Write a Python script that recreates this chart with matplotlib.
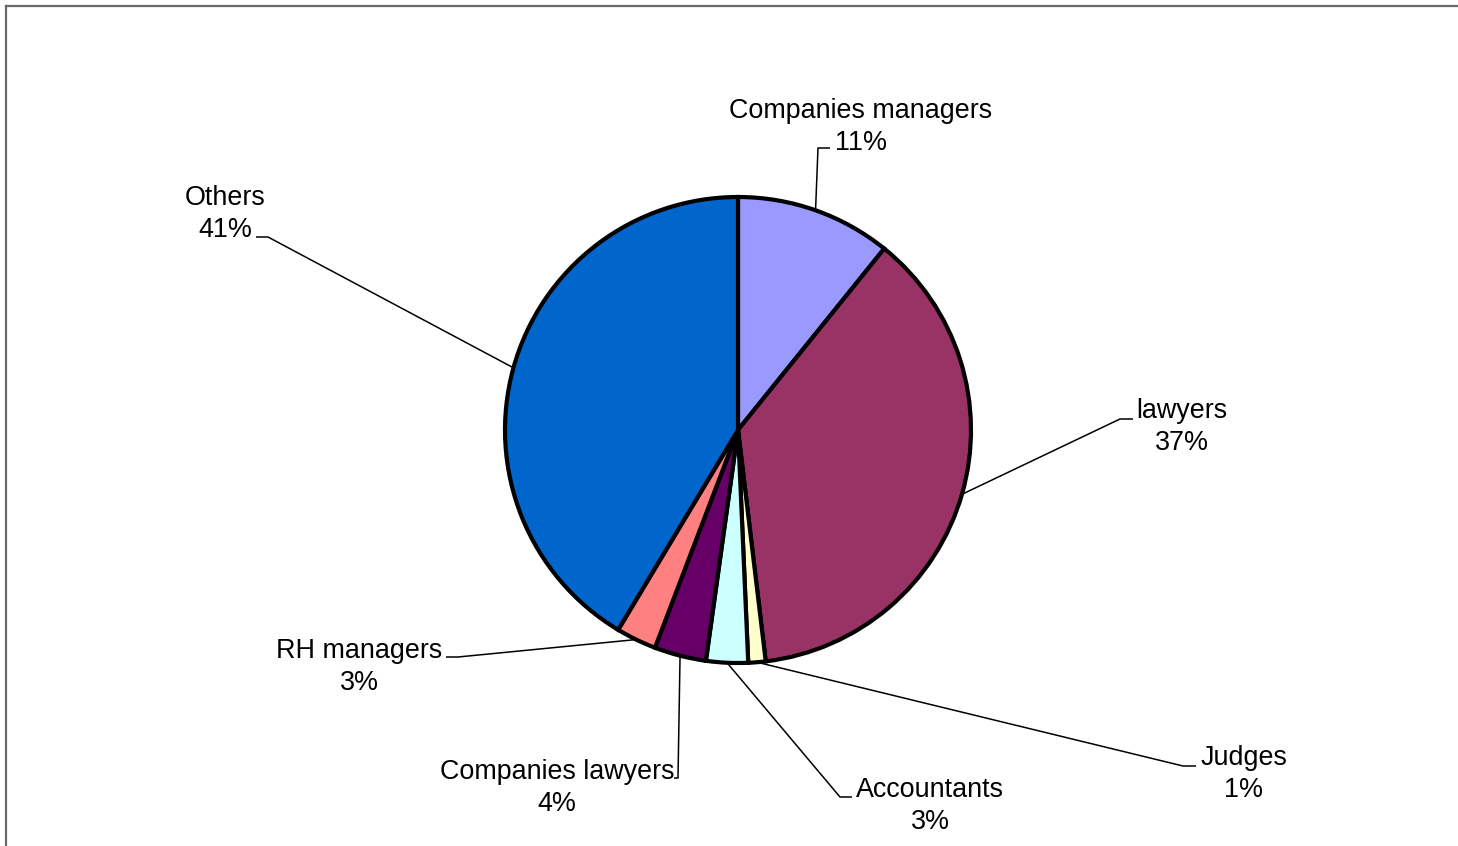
import numpy as np
import matplotlib
matplotlib.use("Agg")
import matplotlib.pyplot as plt
from matplotlib.lines import Line2D

plt.rcParams['font.family'] = ['Liberation Sans', 'DejaVu Sans']

# data (clockwise from 12 o'clock)
categories = ["Companies managers", "lawyers", "Judges", "Accountants",
              "Companies lawyers", "RH managers", "Others"]
shares = [10.8, 37.3, 1.2, 2.9, 3.6, 2.8, 41.4]
colors = ["#9999FF", "#993366", "#FFFFCC", "#CCFFFF", "#660066", "#FF8080", "#0066CC"]

W, H = 1458, 846
fig = plt.figure(figsize=(W / 100, H / 100), dpi=100)
ax = fig.add_axes([0, 0, 1, 1])

cx, cy, r = 738, H - 430, 233
wedges, _ = ax.pie(shares, colors=colors, startangle=90, counterclock=False,
                   center=(cx, cy), radius=r, frame=True,
                   wedgeprops=dict(edgecolor='black', linewidth=3.0))
ax.set_xlim(0, W)
ax.set_ylim(0, H)
ax.set_aspect('equal')
ax.axis('off')

# label layout in pixel coords: text centre, elbow point, end of horizontal tick
layout = {
    "Companies managers": ((861, 127), (818, 148), (830, 148)),
    "lawyers":            ((1182, 427), (1120, 419), (1133, 419)),
    "Judges":             ((1244, 774), (1183, 766), (1196, 766)),
    "Accountants":        ((930, 806), (840, 797), (852, 797)),
    "Companies lawyers":  ((557, 788), (678, 778), (674, 778)),
    "RH managers":        ((359, 667), (458, 657), (446, 657)),
    "Others":             ((225, 214), (268, 237), (256, 237)),
}

for w, name, val in zip(wedges, categories, shares):
    mid = np.deg2rad((w.theta1 + w.theta2) / 2)
    sx, sy = cx + r * np.cos(mid), cy + r * np.sin(mid)
    (tx, ty), (ex, ey), (hx, hy) = layout[name]
    ax.plot([sx, ex, hx], [sy, H - ey, H - hy], color='black', lw=1.1,
            solid_capstyle='butt', zorder=1)
    ax.text(tx, H - ty, f"{name}\n{round(val)}%", ha='center', va='center',
            fontsize=19.4, linespacing=1.27)

# chart border (top and left edges visible)
gray = "#6a6a6a"
fig.add_artist(Line2D([6 / W, 1], [1 - 6 / H, 1 - 6 / H], color=gray, lw=1.6))
fig.add_artist(Line2D([6 / W, 6 / W], [0, 1 - 6 / H], color=gray, lw=1.6))

fig.savefig("out.png", dpi=100)
